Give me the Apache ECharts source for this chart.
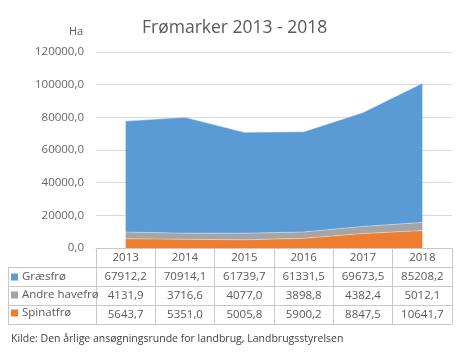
<!DOCTYPE html>
<html>
<head>
<meta charset="utf-8">
<script src="https://cdn.jsdelivr.net/npm/echarts@6/dist/echarts.min.js"></script>
<style>
  html, body { margin: 0; padding: 0; background: #fff; }
  #chart { width: 464px; height: 354px; }
</style>
</head>
<body>
<div id="chart"></div>
<script>
// data
const years = ['2013', '2014', '2015', '2016', '2017', '2018']
const graesfro = [67912.2, 70914.1, 61739.7, 61331.5, 69673.5, 85208.2]
const andreHavefro = [4131.9, 3716.6, 4077.0, 3898.8, 4382.4, 5012.1]
const spinatfro = [5643.7, 5351.0, 5005.8, 5900.2, 8847.5, 10641.7]
const yTicks = [0, 20000, 40000, 60000, 80000, 100000, 120000]

const font = '"Open Sans", "Noto Sans", sans-serif'
const textColor = '#595959'
const borderColor = '#c8c8c8'

// layout
const gridLeft = 96
const gridRight = 12
const axisY = 248
const rowH = 19
const tableLeft = 8

const fmt = v => v.toFixed(1).replace('.', ',')

const rows = [
  { name: 'Græsfrø', data: graesfro, color: '#5b9bd5' },
  { name: 'Andre havefrø', data: andreHavefro, color: '#a5a5a5' },
  { name: 'Spinatfrø', data: spinatfro, color: '#ed7d31' }
]

const chartDom = document.getElementById('chart')
const myChart = echarts.init(chartDom)

// extra x axes, one per table row
const tableAxes = rows.map((r, i) => ({
  type: 'category',
  position: 'bottom',
  offset: rowH * (i + 1),
  data: r.data.map(fmt),
  axisLine: { show: false },
  axisTick: { show: false },
  axisLabel: { color: textColor, fontFamily: font, fontSize: 11.5, margin: 4, interval: 0 }
}))

// horizontal table lines
const tableLines = []
for (let i = 1; i <= rows.length + 1; i++) {
  const y = axisY + rowH * i + 0.5
  tableLines.push({
    type: 'line',
    shape: { x1: tableLeft, y1: y, x2: 464 - gridRight, y2: y },
    style: { stroke: borderColor, lineWidth: 1 }
  })
}
tableLines.push({
  type: 'line',
  shape: { x1: tableLeft + 0.5, y1: axisY + rowH, x2: tableLeft + 0.5, y2: axisY + rowH * (rows.length + 1) },
  style: { stroke: borderColor, lineWidth: 1 }
})

const option = {
  backgroundColor: '#fff',
  animation: false,
  title: [
    {
      text: 'Frømarker 2013 - 2018',
      left: 137,
      top: 14,
      textStyle: { color: textColor, fontFamily: font, fontSize: 17.5, fontWeight: 'normal' }
    },
    {
      text: 'Ha',
      left: 64,
      top: 21,
      textStyle: { color: textColor, fontFamily: font, fontSize: 11, fontWeight: 'normal' }
    },
    {
      text: 'Kilde: Den årlige ansøgningsrunde for landbrug, Landbrugsstyrelsen',
      left: 6,
      top: 329,
      textStyle: { color: '#404040', fontFamily: font, fontSize: 10.5, fontWeight: 'normal' }
    }
  ],
  legend: {
    data: rows.map(r => r.name),
    orient: 'vertical',
    left: 11,
    top: axisY + rowH + 4,
    padding: 0,
    itemGap: 6,
    itemWidth: 7,
    itemHeight: 7,
    icon: 'rect',
    selectedMode: false,
    textStyle: { color: textColor, fontFamily: font, fontSize: 11.5, height: 13, padding: [0, 0, 0, -1] }
  },
  grid: {
    left: gridLeft,
    right: gridRight,
    top: 52,
    bottom: 354 - axisY,
    containLabel: false
  },
  xAxis: [
    {
      type: 'category',
      boundaryGap: true,
      data: years,
      axisLine: { lineStyle: { color: borderColor } },
      axisTick: { show: true, interval: 0, length: rowH * (rows.length + 1), lineStyle: { color: borderColor } },
      axisLabel: { color: textColor, fontFamily: font, fontSize: 11.5, margin: 4, interval: 0 }
    },
    ...tableAxes
  ],
  yAxis: {
    type: 'value',
    min: yTicks[0],
    max: yTicks[yTicks.length - 1],
    interval: yTicks[1] - yTicks[0],
    axisLine: { show: false },
    axisTick: { show: false },
    splitLine: { lineStyle: { color: '#d9d9d9' } },
    axisLabel: { color: '#666', fontFamily: font, fontSize: 11.5, margin: 12, formatter: v => fmt(v) }
  },
  graphic: tableLines,
  // stacked from the bottom up
  series: rows.slice().reverse().map(r => ({
    name: r.name,
    type: 'line',
    stack: 'total',
    data: r.data,
    showSymbol: false,
    symbol: 'none',
    itemStyle: { color: r.color },
    lineStyle: { width: 0.6, color: '#fff', opacity: 0.6 },
    areaStyle: { color: r.color, opacity: 1 }
  }))
}

myChart.setOption(option)
</script>
</body>
</html>
